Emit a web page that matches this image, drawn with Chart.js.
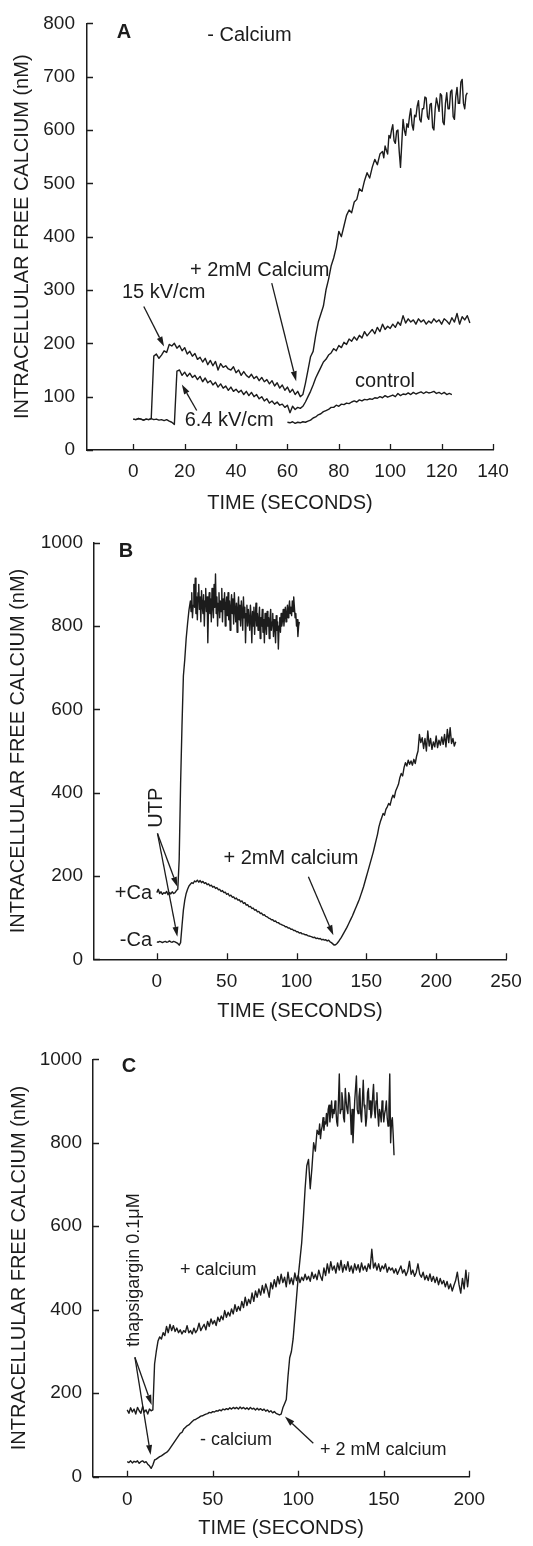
<!DOCTYPE html>
<html>
<head>
<meta charset="utf-8">
<script src="https://cdn.jsdelivr.net/npm/chart.js@4.4.0/dist/chart.umd.min.js"></script>
<style>
  body { margin: 0; background: #fff; width: 533px; height: 1546px; position: relative; overflow: hidden; }
  canvas { position: absolute; left: 0; }
</style>
</head>
<body>
<canvas id="chartA" width="533" height="515" style="top:0px"></canvas>
<canvas id="chartB" width="533" height="508" style="top:515px"></canvas>
<canvas id="chartC" width="533" height="517" style="top:1023px"></canvas>
<script>
// ---- panel A : electric pulses, calcium-free medium (1 sample per second) ----
const aXTicks = [0, 20, 40, 60, 80, 100, 120, 140];
const aYTicks = [0, 100, 200, 300, 400, 500, 600, 700, 800];
const a15Start = 0;
const a15Values = [
  58, 57, 59, 58, 56, 58, 57, 59,
  176, 180, 172, 178, 186, 183, 198, 195, 200, 191,
  196, 186, 192, 180, 185, 176, 181, 170, 174, 165,
  172, 160, 168, 158, 166, 150, 162, 155, 158, 152,
  150, 156, 145, 150, 140, 147, 140, 136, 142, 134,
  138, 130, 136, 128, 132, 124, 130, 120, 126, 116,
  122, 112, 118, 108, 114, 104, 110, 100, 104,
  125, 150, 175, 185, 215, 240, 255, 270, 300, 320,
  345, 360, 380, 410, 400, 420, 440, 450, 445, 465,
  470, 490, 485, 505, 520, 510, 530, 545, 535, 555
];
// the noisier tail of the same trace, 2 samples per second from t = 97
const a15TailStart = 97;
const a15TailValues = [
  560, 548, 570, 562, 555, 590, 585, 600,
  610, 580, 575, 598, 600, 560, 530, 575, 620, 600, 590, 612,
  605, 625, 640, 610, 600, 628, 625, 645, 655, 620, 615, 640,
  640, 662, 660, 625, 620, 648, 650, 605, 600, 640, 660, 648,
  635, 668, 665, 615, 610, 650, 670, 640, 640, 672, 675, 625,
  620, 662, 680, 650, 650, 690, 695, 650, 640, 665, 670
];
const a64Start = 0;
const a64Values = [
  58, 57, 59, 58, 56, 58, 57, 59, 57, 58, 56, 57, 55, 57, 54, 52, 48,
  148, 150, 140, 146, 138, 144, 136, 140, 132, 138,
  128, 135, 126, 130, 122, 127, 118, 124, 116, 120,
  112, 118, 110, 114, 108, 112, 104, 110, 102, 108,
  100, 104, 96, 100, 92, 96, 88, 92, 86, 90,
  84, 86, 80, 84, 70, 82, 76, 80, 78, 82,
  90, 100, 110, 122, 135, 145, 155, 165, 170, 178,
  182, 190, 186, 196, 192, 202, 198, 208, 204, 212,
  206, 215, 210, 222, 214, 220, 226, 218, 230, 222,
  236, 226, 232, 228, 236, 230, 240, 234, 252, 238,
  246, 240, 244, 236, 246, 240, 244, 236, 242, 238,
  246, 240, 244, 236, 246, 242, 236, 248, 240, 256,
  236, 250, 244, 252, 238
];
const aControlStart = 60;
const aControlValues = [
  52, 51, 53, 50, 52, 51, 53, 52, 54, 56,
  60, 62, 66, 68, 72, 74, 76, 80, 80, 84,
  82, 86, 85, 88, 87, 90, 92, 90, 94, 92,
  95, 94, 96, 95, 98, 97, 100, 98, 102, 99,
  101, 103, 100, 106, 102, 105, 104, 107, 104, 108,
  105, 107, 109, 106, 109, 107, 108, 110, 106, 108,
  105, 108, 104, 106, 104
];

// ---- panel B : UTP with / without calcium ----
const bXTicks = [0, 50, 100, 150, 200, 250];
const bYTicks = [0, 200, 400, 600, 800, 1000];
const bPlusStart = 0;
const bPlusValues = [
  160, 168, 158, 162, 156, 160, 158, 163, 155, 160, 157, 162, 158, 160, 165, 168,
  240, 420, 560, 680, 720, 770, 806, 838
];
// plateau after UTP, 2 samples per second from t = 24
const bPlateauStart = 24;
const bPlateauValues = [
  860, 835, 880, 820, 850, 900, 845, 915, 830, 870, 815, 880,
  900, 840, 870, 810, 885, 850, 830, 875, 800, 860, 890, 835,
  870, 760, 845, 880, 830, 865, 810, 890, 850, 820, 900, 845,
  925, 830, 870, 800, 855, 880, 820, 860, 835, 890, 810, 865,
  840, 880, 800, 850, 870, 825, 880, 815, 860, 790, 845, 875,
  830, 865, 805, 880, 840, 810, 855, 785, 840, 870, 815, 850,
  800, 860, 835, 790, 870, 820, 845, 760, 830, 850, 800, 840,
  815, 790, 850, 820, 760, 835, 800, 845, 780, 825, 855, 800,
  830, 790, 815, 845, 770, 820, 800, 840, 785, 815, 760, 830,
  805, 780, 835, 800, 820, 770, 815, 840, 790, 810, 830, 775,
  815, 800, 760, 825, 790, 810, 745, 800, 820, 785, 830, 800,
  815, 840, 800, 825, 845, 810, 830, 850, 820, 840, 860, 830,
  845, 825, 860, 835, 870, 845, 820, 830, 800, 815, 775, 800,
  810
];
const bMinusStart = 0;
const bMinusValues = [
  42, 41, 43, 42, 40, 42, 43, 41, 42, 44, 42, 41, 43, 42, 40, 38,
  34, 40, 80, 118, 142, 158, 168, 176, 180, 184,
  182, 188, 186, 190, 185, 189, 184, 187, 182, 184,
  179, 181, 176, 178, 173, 175, 170, 172, 167, 168,
  163, 165, 160, 161, 156, 158, 152, 154, 149, 150,
  145, 147, 142, 143, 138, 140, 134, 136, 130, 131,
  126, 127, 122, 123, 118, 119, 114, 115, 110, 111,
  106, 107, 103, 102, 99, 98, 95, 95, 91, 92,
  88, 88, 85, 84, 82, 81, 78, 78, 75, 75,
  72, 72, 69, 69, 66, 66, 63, 64, 61, 61,
  59, 59, 57, 56, 55, 54, 52, 53, 50, 51,
  49, 50, 47, 48, 46, 47, 44, 46, 42, 40,
  37, 34, 35, 38, 42, 47, 52, 58, 64, 70,
  76, 83, 90, 97, 104, 112, 120, 128, 136, 144,
  154, 164, 174, 186, 198, 210, 222, 234, 246, 258,
  272, 286, 300, 318, 330, 340, 350, 346, 360, 366,
  374, 370, 384, 394, 388, 404, 412, 420, 436, 446,
  440, 460, 472, 464, 478, 468, 476, 466, 480, 470,
  488, 500, 540, 520, 532, 506, 530, 500, 548, 512,
  530, 504, 522, 510, 536, 508, 526, 514, 534, 516,
  540, 510, 552, 520, 556, 518, 530, 512, 522
];

// ---- panel C : thapsigargin with / without calcium ----
const cXTicks = [0, 50, 100, 150, 200];
const cYTicks = [0, 200, 400, 600, 800, 1000];
const cPlusStart = 0;
const cPlusValues = [
  160, 152, 165, 155, 162, 150, 166, 158, 152, 168, 155, 160, 150, 162, 158, 160,
  270, 300, 325, 335, 330, 345, 338, 360, 345, 365,
  350, 362, 348, 356, 345, 352, 342, 350, 346, 362,
  345, 350, 342, 356, 345, 352, 368, 350, 358, 365,
  352, 372, 360, 378, 366, 374, 362, 382, 372, 385,
  376, 398, 382, 394, 385, 402, 390, 412, 396, 408,
  398, 420, 405, 430, 410, 425, 415, 440, 420, 445,
  430, 450, 435, 458, 440, 462, 448, 430, 465, 450,
  472, 455, 480, 462, 485, 465, 478, 455, 490, 462,
  476, 460, 488, 470, 482, 465, 478, 470, 485, 472,
  480, 468, 490, 475, 485, 472, 495, 480, 470, 500,
  482, 510, 488, 515, 495, 505, 488, 512, 495, 518,
  490, 508, 495, 515, 492, 505, 488, 510, 495, 508,
  490, 512, 495, 505, 492, 510, 498, 545, 500, 512,
  495, 510, 492, 505, 498, 510, 490, 502, 495, 500,
  488, 498, 485, 495, 505, 488, 496, 482, 492, 516,
  485, 495, 480, 490, 510, 485, 478, 490, 472, 482,
  470, 486, 468, 480, 465, 478, 460, 475, 462, 470,
  455, 468, 450, 462, 445, 458, 470, 490, 460, 440,
  475, 450, 495, 455, 490
];
const cMinusStart = 0;
const cMinusValues = [
  36, 34, 38, 33, 37, 35, 38, 32, 36, 38, 34, 36, 30, 26,
  20, 28, 40, 42, 45, 48, 50, 53, 56, 58,
  62, 68, 74, 80, 86, 92, 98, 104, 106, 114,
  118, 122, 124, 128, 132, 136, 137, 140, 142, 145,
  146, 148, 150, 151, 154, 153, 156, 155, 158, 157,
  160, 158, 162, 160, 163, 161, 165, 162, 166, 163,
  166, 162, 167, 163, 166, 162, 165, 161, 166, 162,
  164, 160, 164, 160, 163, 159, 162, 157, 160, 155,
  158, 153, 156, 152, 150, 148, 150, 165, 175, 185,
  240, 285, 300, 330, 380, 430, 480, 520, 560, 620,
  690, 745, 760, 690, 740, 800, 780, 830
];
// plateau after calcium re-addition, 2 samples per second from t = 112
const cPlateauStart = 112;
const cPlateauValues = [
  820, 845, 810, 830, 840, 860, 830, 850, 845, 870, 840, 880,
  890, 850, 875, 900, 860, 880, 870, 900, 880, 850, 840, 900,
  965, 870, 880, 920, 900, 860, 850, 930, 900, 880, 870, 920,
  910, 870, 820, 880, 800, 850, 900, 930, 960, 880, 870, 910,
  930, 870, 850, 900, 950, 890, 880, 840, 860, 920, 930, 880,
  900, 860, 870, 910, 940, 880, 860, 900, 920, 870, 840, 880,
  870, 850, 900, 880, 850, 870, 880, 900, 860, 840, 880, 965,
  800, 850, 860, 820, 770
];

const INK = '#1c1c1c';
const FONT = '"Liberation Sans", Arial, sans-serif';

function toPoints(start, values, step = 1) {
  return values.map((v, i) => ({ x: start + i * step, y: v }));
}

// tick marks point into the plot, as in the original figure
const inwardTicks = {
  id: 'inwardTicks',
  afterDraw(chart) {
    const { ctx, chartArea: a, scales: { x, y } } = chart;
    ctx.save();
    ctx.strokeStyle = INK;
    ctx.lineWidth = 1.3;
    ctx.beginPath();
    x.ticks.forEach(t => {
      const px = Math.round(x.getPixelForValue(t.value)) + 0.5;
      ctx.moveTo(px, a.bottom);
      ctx.lineTo(px, a.bottom - 6);
    });
    y.ticks.forEach(t => {
      const py = Math.round(y.getPixelForValue(t.value)) + 0.5;
      ctx.moveTo(a.left, py);
      ctx.lineTo(a.left + 6, py);
    });
    ctx.stroke();
    ctx.restore();
  }
};

function notesPlugin(texts, arrows) {
  return {
    id: 'notes',
    afterDatasetsDraw(chart) {
      const { ctx, scales: { x, y } } = chart;
      ctx.save();
      ctx.fillStyle = INK;
      ctx.strokeStyle = INK;
      texts.forEach(n => {
        ctx.save();
        ctx.font = (n.bold ? 'bold ' : '') + n.size + 'px ' + FONT;
        ctx.textAlign = n.align || 'left';
        ctx.textBaseline = 'middle';
        ctx.translate(x.getPixelForValue(n.x), y.getPixelForValue(n.y));
        if (n.rotate) ctx.rotate(-Math.PI / 2);
        ctx.fillText(n.text, 0, 0);
        ctx.restore();
      });
      ctx.lineWidth = 1.3;
      arrows.forEach(([t0, v0, t1, v1]) => {
        const x0 = x.getPixelForValue(t0), y0 = y.getPixelForValue(v0);
        const x1 = x.getPixelForValue(t1), y1 = y.getPixelForValue(v1);
        const ang = Math.atan2(y1 - y0, x1 - x0);
        const len = 10, half = 3;
        const bx = x1 - len * Math.cos(ang), by = y1 - len * Math.sin(ang);
        ctx.beginPath();
        ctx.moveTo(x0, y0);
        ctx.lineTo(bx, by);
        ctx.stroke();
        ctx.beginPath();
        ctx.moveTo(x1, y1);
        ctx.lineTo(bx + half * Math.sin(ang), by - half * Math.cos(ang));
        ctx.lineTo(bx - half * Math.sin(ang), by + half * Math.cos(ang));
        ctx.closePath();
        ctx.fill();
      });
      ctx.restore();
    }
  };
}

function buildChart(id, cfg) {
  const el = document.getElementById(id);
  return new Chart(el, {
    type: 'line',
    data: {
      datasets: cfg.series.map(s => ({
        data: s,
        borderColor: INK,
        borderWidth: 1.4,
        borderJoinStyle: 'round',
        pointRadius: 0,
        fill: false,
        tension: 0
      }))
    },
    options: {
      responsive: false,
      animation: false,
      events: [],
      layout: { padding: { left: 0, top: cfg.area.top, right: el.width - cfg.area.right, bottom: 0 } },
      plugins: { legend: { display: false }, tooltip: { enabled: false } },
      scales: {
        x: {
          type: 'linear',
          min: cfg.xMin,
          max: cfg.xMax,
          afterBuildTicks: s => { s.ticks = cfg.xTicks.map(v => ({ value: v })); },
          afterFit: s => { s.height = el.height - cfg.area.bottom; },
          grid: { display: false, drawTicks: false },
          border: { display: true, color: INK, width: 1.5 },
          ticks: { color: INK, font: { family: FONT, size: 19 }, padding: cfg.xPad, maxRotation: 0, autoSkip: false, callback: v => String(v) },
          title: { display: true, text: 'TIME (SECONDS)', color: INK, font: { family: FONT, size: 20 }, padding: { top: 0, bottom: 0 } }
        },
        y: {
          min: 0,
          max: cfg.yTicks[cfg.yTicks.length - 1],
          afterBuildTicks: s => { s.ticks = cfg.yTicks.map(v => ({ value: v })); },
          afterFit: s => { s.width = cfg.area.left; },
          grid: { display: false, drawTicks: false },
          border: { display: true, color: INK, width: 1.5 },
          ticks: { color: INK, font: { family: FONT, size: 19 }, padding: cfg.yPad, autoSkip: false, callback: v => String(v) },
          title: { display: true, text: 'INTRACELLULAR FREE CALCIUM (nM)', color: INK, font: { family: FONT, size: 20 }, padding: { top: cfg.yTitlePad, bottom: 0 } }
        }
      }
    },
    plugins: [inwardTicks, notesPlugin(cfg.texts, cfg.arrows)]
  });
}

buildChart('chartA', {
  series: [
    toPoints(a15Start, a15Values).concat(toPoints(a15TailStart, a15TailValues, 0.5)),
    toPoints(a64Start, a64Values),
    toPoints(aControlStart, aControlValues)
  ],
  area: { left: 87, right: 493, top: 16, bottom: 450 },
  xMin: -18, xMax: 140, xTicks: aXTicks, yTicks: aYTicks,
  xPad: 10, yPad: 12, yTitlePad: 10,
  texts: [
    { text: 'A', x: -3.6, y: 783, size: 20, bold: true, align: 'center' },
    { text: '- Calcium', x: 28.8, y: 778, size: 20 },
    { text: '+ 2mM Calcium', x: 22.1, y: 337, size: 20 },
    { text: '15 kV/cm', x: -4.4, y: 295, size: 20 },
    { text: '6.4 kV/cm', x: 20, y: 55, size: 20 },
    { text: 'control', x: 86.3, y: 129, size: 20 }
  ],
  arrows: [[4.1, 269, 12, 194], [24.7, 74, 18.9, 123], [53.9, 313, 63.4, 129]]
});

buildChart('chartB', {
  series: [
    toPoints(bPlusStart, bPlusValues).concat(toPoints(bPlateauStart, bPlateauValues, 0.5)),
    toPoints(bMinusStart, bMinusValues)
  ],
  area: { left: 94, right: 506, top: 27.7, bottom: 444.3 },
  xMin: -45, xMax: 250, xTicks: bXTicks, yTicks: bYTicks,
  xPad: 11, yPad: 11, yTitlePad: 6,
  texts: [
    { text: 'B', x: -22.1, y: 980, size: 20, bold: true, align: 'center' },
    { text: '+Ca', x: -3.4, y: 158, size: 20, align: 'right' },
    { text: '-Ca', x: -3.4, y: 46, size: 20, align: 'right' },
    { text: 'UTP', x: 0, y: 364, size: 20, align: 'center', rotate: true },
    { text: '+ 2mM calcium', x: 47.7, y: 242, size: 20 }
  ],
  arrows: [[0.45, 302, 14.7, 174], [0.45, 302, 14.7, 54], [108.5, 198, 126.4, 58]]
});

buildChart('chartC', {
  series: [
    toPoints(cPlusStart, cPlusValues),
    toPoints(cMinusStart, cMinusValues).concat(toPoints(cPlateauStart, cPlateauValues, 0.5))
  ],
  area: { left: 93, right: 469.3, top: 36.3, bottom: 453.7 },
  xMin: -20, xMax: 200, xTicks: cXTicks, yTicks: cYTicks,
  xPad: 12, yPad: 11, yTitlePad: 7,
  texts: [
    { text: 'C', x: 1.1, y: 982, size: 20, bold: true, align: 'center' },
    { text: 'thapsigargin 0.1\u03bcM', x: 3.9, y: 495, size: 18, align: 'center', rotate: true },
    { text: '+ calcium', x: 30.8, y: 495, size: 18 },
    { text: '- calcium', x: 42.5, y: 88, size: 18 },
    { text: '+ 2 mM calcium', x: 112.7, y: 64, size: 18 }
  ],
  arrows: [[4.5, 286, 14.3, 172], [4.5, 286, 13.7, 52], [108.8, 80, 92.2, 144]]
});
</script>
</body>
</html>
